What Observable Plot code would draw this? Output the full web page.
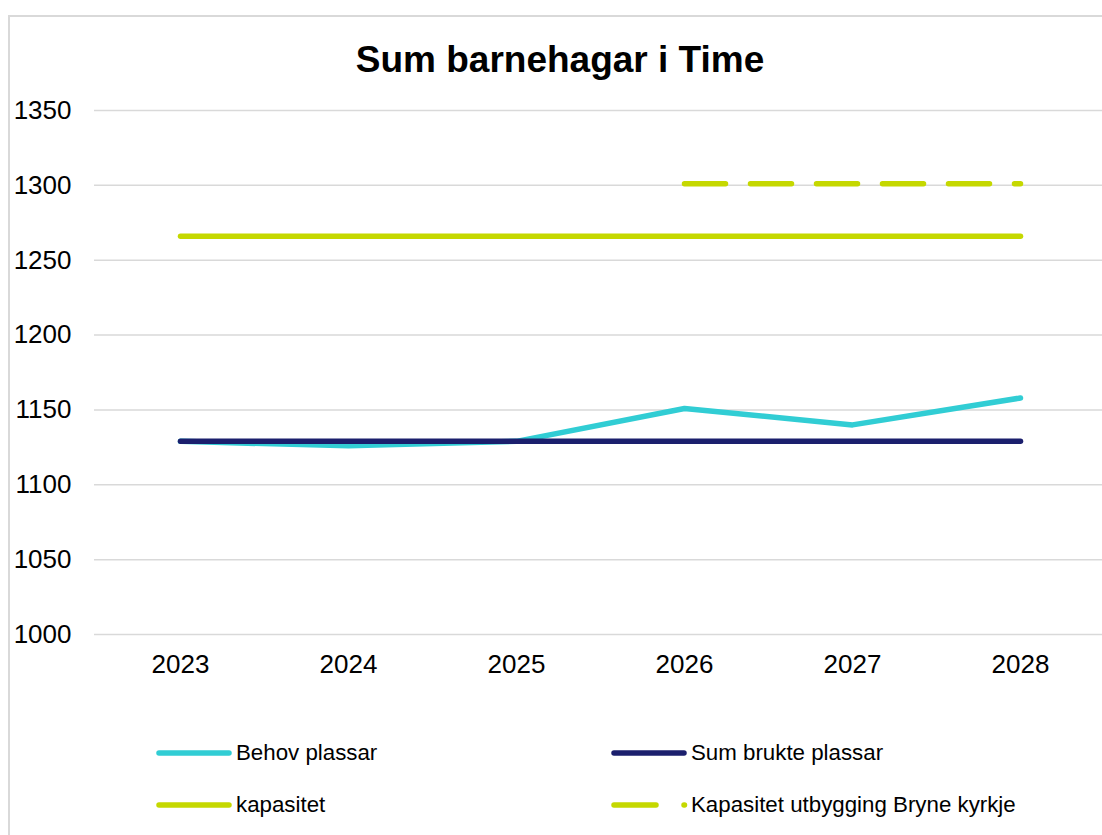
<!DOCTYPE html>
<html>
<head>
<meta charset="utf-8">
<script src="https://cdn.jsdelivr.net/npm/d3@7"></script>
<script src="https://cdn.jsdelivr.net/npm/@observablehq/plot@0.6"></script>
<style>
  html, body { margin: 0; padding: 0; background: #fff; overflow: hidden; width: 1102px; height: 835px; }
  body { font-family: "Liberation Sans", Arial, sans-serif; color: #000; position: relative; }
  #wrap { position: absolute; left: 8px; top: 15px; width: 1100px; height: 840px;
          border-left: 2px solid #d9d9d9; border-top: 2px solid #d9d9d9; }
  #title { padding-top: 25px; height: 36px; line-height: 36px; font-size: 37px; font-weight: bold; text-align: center; }
  #chart svg { display: block; overflow: visible; }
  #legend { position: absolute; left: 0; top: 0; font-size: 22.3px; }
  .item { position: absolute; display: flex; align-items: center; height: 30px; white-space: nowrap; }
  .item svg { display: block; margin-right: 3px; }
</style>
</head>
<body>
<div id="wrap">
  <div id="title">Sum barnehagar i Time</div>
  <div id="chart"></div>
  <div id="legend"></div>
</div>
<script>
const years = ["2023", "2024", "2025", "2026", "2027", "2028"];
const behovPlassar = [1129, 1126, 1129, 1151, 1140, 1158];
const sumBruktePlassar = [1129, 1129, 1129, 1129, 1129, 1129];
const kapasitet = [1266, 1266, 1266, 1266, 1266, 1266];
const kapasitetUtbygging = [null, null, null, 1301, 1301, 1301];
const yTicks = [1000, 1050, 1100, 1150, 1200, 1250, 1300, 1350];

const seriesNames = ["Behov plassar", "Sum brukte plassar", "kapasitet", "Kapasitet utbygging Bryne kyrkje"];
const colors = ["#31CDD4", "#1B1F6D", "#C5D800", "#C5D800"];

const rows = (vals) => years.map((y, i) => ({year: y, value: vals[i]})).filter(d => d.value != null);

const plot = Plot.plot({
  width: 1094,
  height: 616,
  marginLeft: 86,
  marginRight: 0,
  marginTop: 32,
  marginBottom: 60,
  style: {fontFamily: '"Liberation Sans", Arial, sans-serif', color: "#000", background: "transparent"},
  x: {type: "point", domain: years, padding: 0.5, label: null},
  y: {domain: [1000, 1350], label: null},
  marks: [
    Plot.ruleY(yTicks, {stroke: "#d9d9d9", strokeWidth: 1.5, insetLeft: -2}),
    Plot.axisY({ticks: yTicks, tickSize: 0, tickPadding: 25, fontSize: 26, label: null, tickFormat: d => String(d)}),
    Plot.axisX({tickSize: 0, tickPadding: 20, fontSize: 26, label: null}),
    Plot.line(rows(behovPlassar), {x: "year", y: "value", stroke: colors[0], strokeWidth: 5.5, strokeLinecap: "round", strokeLinejoin: "round"}),
    Plot.line(rows(sumBruktePlassar), {x: "year", y: "value", stroke: colors[1], strokeWidth: 5.5, strokeLinecap: "round", strokeLinejoin: "round"}),
    Plot.line(rows(kapasitet), {x: "year", y: "value", stroke: colors[2], strokeWidth: 5.5, strokeLinecap: "round"}),
    Plot.line(rows(kapasitetUtbygging), {x: "year", y: "value", stroke: colors[3], strokeWidth: 5.5, strokeLinecap: "round", strokeDasharray: "41,25"})
  ]
});
document.getElementById("chart").appendChild(plot);

// legend
const legend = document.getElementById("legend");
const positions = [[146, 721], [601, 721], [146, 773], [601, 773]];
seriesNames.forEach((name, i) => {
  const item = document.createElement("div");
  item.className = "item";
  item.style.left = positions[i][0] + "px";
  item.style.top = positions[i][1] + "px";
  const line = i === 3
    ? `<line x1="3" x2="74" y1="6" y2="6" stroke="${colors[i]}" stroke-width="5.5" stroke-linecap="round" stroke-dasharray="42,28,0.5,20"/>`
    : `<line x1="3" x2="73" y1="6" y2="6" stroke="${colors[i]}" stroke-width="5.5" stroke-linecap="round"/>`;
  item.innerHTML = `<svg width="77" height="12">${line}</svg><span>${name}</span>`;
  legend.appendChild(item);
});
</script>
</body>
</html>
